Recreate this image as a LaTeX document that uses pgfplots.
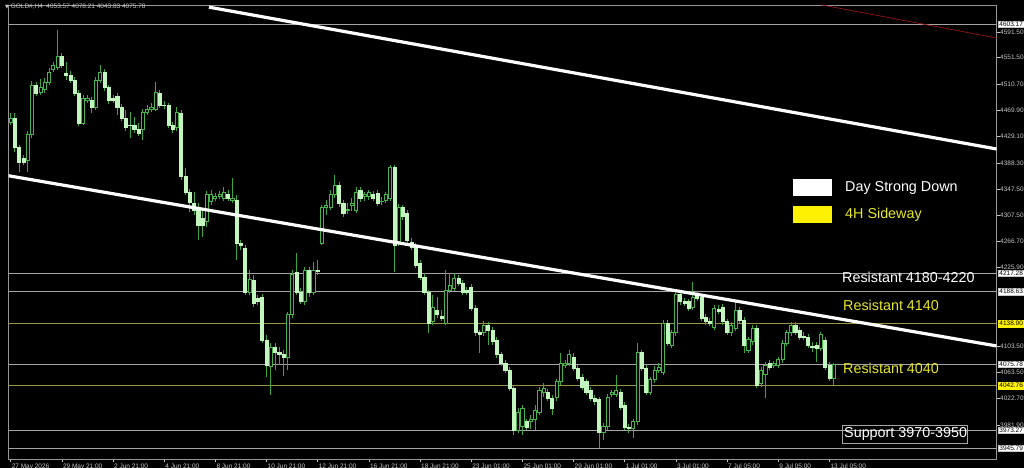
\documentclass[border=0pt]{standalone}
\usepackage{pgfplots}
\pgfplotsset{compat=1.18}
\usepackage{pgfplotstable}
\usepackage{fontspec}
\setmainfont{Liberation Sans}
\newfontfamily\dejavu{DejaVu Sans}
\definecolor{wickc}{RGB}{60,165,60}
\definecolor{bullc}{RGB}{70,180,70}
\definecolor{bearc}{RGB}{195,245,190}
\definecolor{lvlgray}{RGB}{165,165,165}
\definecolor{lvlyel}{RGB}{150,150,70}
\definecolor{labgray}{RGB}{200,200,200}
\definecolor{framegray}{RGB}{150,150,150}
\definecolor{annyel}{RGB}{230,230,40}
\definecolor{darkredline}{RGB}{150,20,20}
\pgfplotsset{
  wick/.style={color=wickc, line width=1bp, mark=none, forget plot},
  bullbody/.style={draw=bullc, fill=black, line width=0.8bp, mark=none, forget plot},
  bearbody/.style={draw=bearc, fill=bearc, line width=0.6bp, mark=none, forget plot},
}
\pgfplotstableread{
i o h l c
0 4452 4466 4447 4458
1 4458 4466 4405 4412
2 4412 4416 4374 4390
3 4396 4401 4385 4390
4 4393 4438 4374 4432
5 4432 4516 4427 4509
6 4509 4514 4492 4497
7 4497 4519 4494 4506
8 4502 4520 4497 4514
9 4514 4536 4509 4529
10 4534 4545 4529 4539
11 4537 4595 4533 4553
12 4553 4559 4536 4540
13 4528 4545 4517 4525
14 4525 4531 4512 4517
15 4517 4522 4492 4497
16 4497 4502 4446 4450
17 4450 4494 4447 4489
18 4486 4494 4481 4488
19 4486 4491 4466 4475
20 4475 4522 4471 4517
21 4517 4540 4512 4529
22 4529 4534 4500 4505
23 4505 4509 4480 4485
24 4489 4494 4481 4486
25 4491 4497 4463 4475
26 4475 4480 4453 4458
27 4458 4471 4438 4444
28 4447 4467 4427 4446
29 4447 4460 4435 4440
30 4440 4450 4430 4435
31 4440 4472 4424 4466
32 4467 4478 4463 4471
33 4471 4481 4467 4474
34 4472 4514 4469 4497
35 4497 4502 4474 4478
36 4478 4485 4472 4477
37 4477 4481 4443 4447
38 4447 4452 4435 4440
39 4443 4475 4438 4466
40 4466 4471 4362 4367
41 4367 4381 4339 4343
42 4343 4348 4312 4328
43 4326 4343 4308 4315
44 4319 4326 4269 4292
45 4303 4315 4274 4292
46 4297 4345 4289 4339
47 4328 4346 4323 4339
48 4334 4342 4329 4337
49 4337 4345 4332 4339
50 4334 4351 4329 4343
51 4339 4346 4329 4334
52 4331 4365 4326 4334
53 4331 4339 4238 4264
54 4264 4269 4253 4260
55 4256 4261 4184 4188
56 4188 4222 4184 4207
57 4207 4215 4165 4171
58 4179 4184 4168 4174
59 4180 4185 4109 4114
60 4114 4122 4056 4075
61 4073 4109 4029 4103
62 4103 4109 4067 4095
63 4095 4103 4075 4092
64 4091 4098 4058 4087
65 4086 4157 4067 4153
66 4153 4222 4148 4215
67 4218 4249 4184 4188
68 4188 4194 4170 4174
69 4174 4227 4168 4222
70 4222 4227 4180 4188
71 4188 4235 4184 4222
72 4222 4238 4215 4221
73 4264 4323 4261 4319
74 4319 4331 4308 4322
75 4320 4346 4315 4339
76 4339 4370 4334 4354
77 4354 4359 4320 4326
78 4326 4331 4305 4311
79 4314 4326 4309 4317
80 4322 4334 4314 4326
81 4315 4351 4311 4343
82 4346 4351 4328 4334
83 4336 4343 4329 4339
84 4336 4346 4331 4342
85 4339 4345 4329 4334
86 4342 4346 4322 4326
87 4328 4336 4323 4329
88 4331 4343 4326 4339
89 4334 4385 4329 4381
90 4381 4385 4219 4261
91 4266 4325 4260 4320
92 4319 4323 4300 4305
93 4311 4315 4264 4269
94 4266 4272 4253 4258
95 4258 4264 4225 4230
96 4233 4238 4207 4211
97 4211 4218 4184 4188
98 4187 4191 4125 4140
99 4142 4184 4137 4165
100 4160 4180 4148 4153
101 4151 4160 4143 4148
102 4140 4222 4137 4191
103 4191 4218 4187 4199
104 4194 4218 4190 4210
105 4210 4215 4198 4202
106 4202 4207 4184 4188
107 4191 4196 4184 4188
108 4196 4201 4159 4163
109 4163 4168 4120 4125
110 4125 4129 4094 4122
111 4125 4143 4120 4137
112 4137 4142 4106 4129
113 4129 4134 4106 4111
114 4114 4118 4086 4091
115 4091 4095 4073 4078
116 4078 4083 4063 4067
117 4067 4072 4035 4039
118 4039 4044 3966 3974
119 3974 4008 3970 4002
120 3979 4013 3966 4008
121 3987 3991 3974 3979
122 3988 3997 3976 3991
123 3990 4013 3974 4005
124 4002 4041 3997 4036
125 4032 4047 4025 4039
126 4033 4038 4019 4024
127 4024 4029 3997 4008
128 4024 4053 4019 4049
129 4049 4094 4044 4078
130 4075 4083 4070 4077
131 4078 4098 4073 4091
132 4087 4094 4066 4070
133 4070 4075 4050 4055
134 4056 4061 4036 4041
135 4049 4053 4029 4033
136 4036 4041 4019 4024
137 4024 4029 4013 4018
138 4021 4025 3946 3971
139 3971 3985 3959 3979
140 3979 4030 3974 4025
141 4029 4036 4025 4032
142 4029 4060 4025 4036
143 4033 4038 4005 4010
144 4013 4018 3974 3979
145 3979 3983 3970 3976
146 3977 3991 3962 3987
147 3987 4109 3982 4094
148 4094 4098 4066 4070
149 4070 4075 4029 4032
150 4033 4056 4029 4052
151 4052 4073 4047 4067
152 4067 4078 4063 4072
153 4063 4145 4060 4140
154 4140 4145 4104 4109
155 4106 4129 4101 4125
156 4125 4188 4120 4184
157 4184 4188 4168 4173
158 4174 4179 4167 4171
159 4173 4177 4159 4163
160 4165 4204 4160 4180
161 4185 4190 4174 4179
162 4180 4185 4143 4148
163 4149 4154 4137 4142
164 4142 4148 4136 4140
165 4134 4168 4129 4163
166 4162 4168 4154 4159
167 4165 4170 4137 4142
168 4142 4146 4122 4126
169 4125 4142 4120 4137
170 4132 4176 4128 4160
171 4160 4165 4140 4145
172 4145 4149 4094 4106
173 4098 4118 4094 4114
174 4111 4137 4106 4132
175 4132 4137 4039 4044
176 4047 4072 4041 4067
177 4060 4080 4024 4075
178 4078 4083 4067 4072
179 4075 4081 4070 4077
180 4075 4087 4070 4083
181 4083 4114 4078 4109
182 4109 4129 4104 4125
183 4125 4142 4120 4137
184 4137 4142 4122 4126
185 4129 4134 4114 4118
186 4120 4126 4114 4118
187 4118 4123 4101 4106
188 4104 4111 4095 4103
189 4106 4111 4080 4101
190 4101 4126 4097 4122
191 4114 4118 4067 4072
192 4075 4080 4050 4055
193 4053.57 4078.21 4043.83 4075.78
}\candles
\begin{document}
\begin{tikzpicture}[x=1bp,y=1bp]
\useasboundingbox (0,0) rectangle (1024,468);
\fill[black] (0,0) rectangle (1024,468);
\begin{axis}[
  at={(2,14)}, anchor=south west,
  scale only axis, width=988bp, height=454bp,
  xmin=-0.5, xmax=231.2, ymin=3929.2, ymax=4633.4,
  axis line style={draw=framegray, line width=0.8bp},
  tick align=outside, major tick length=3bp,
  tick style={draw=labgray, line width=0.6bp},
  xtick pos=bottom, ytick pos=right, yticklabel pos=right,
  xtick={0,12,...,192},
  xticklabels={27 May 2026,29 May 21:00,2 Jun 21:00,4 Jun 21:00,8 Jun 21:00,10 Jun 21:00,12 Jun 21:00,16 Jun 21:00,18 Jun 21:00,23 Jun 01:00,25 Jun 01:00,29 Jun 01:00,1 Jul 01:00,3 Jul 01:00,7 Jul 05:00,9 Jul 05:00,13 Jul 05:00},
  xticklabel style={anchor=north west, font=\fontsize{6.5}{7}\selectfont, text=labgray, inner sep=0pt, xshift=1bp, yshift=-1.5bp},
  ytick={3981.9,4022.7,4063.5,4103.5,4225.9,4266.7,4307.5,4347.5,4388.3,4429.1,4469.9,4510.7,4551.5,4591.5},
  scaled y ticks=false,
  yticklabel style={anchor=west, font=\fontsize{6.5}{7}\selectfont, text=labgray, inner sep=0pt, xshift=0.5bp,
    /pgf/number format/fixed, /pgf/number format/fixed zerofill, /pgf/number format/precision=2,
    /pgf/number format/1000 sep={}, /pgf/number format/assume math mode=true},
]
% horizontal levels
\addplot[lvlgray, line width=0.8bp, mark=none, forget plot] coordinates {(-0.5,4603.17) (231.2,4603.17)};
\addplot[lvlgray, line width=0.8bp, mark=none, forget plot] coordinates {(-0.5,4217.28) (231.2,4217.28)};
\addplot[lvlgray, line width=0.8bp, mark=none, forget plot] coordinates {(-0.5,4188.63) (231.2,4188.63)};
\addplot[lvlyel, line width=0.8bp, mark=none, forget plot] coordinates {(-0.5,4138.90) (231.2,4138.90)};
\addplot[lvlgray, line width=0.8bp, mark=none, forget plot] coordinates {(-0.5,4075.78) (231.2,4075.78)};
\addplot[lvlyel, line width=0.8bp, mark=none, forget plot] coordinates {(-0.5,4042.76) (231.2,4042.76)};
\addplot[lvlgray, line width=0.8bp, mark=none, forget plot] coordinates {(-0.5,3973.27) (231.2,3973.27)};
\addplot[lvlgray, line width=0.8bp, mark=none, forget plot] coordinates {(-0.5,3945.79) (231.2,3945.79)};
% candles
\pgfplotsinvokeforeach{0,...,193}{
  \pgfplotstablegetelem{#1}{o}\of\candles\let\vo\pgfplotsretval
  \pgfplotstablegetelem{#1}{h}\of\candles\let\vh\pgfplotsretval
  \pgfplotstablegetelem{#1}{l}\of\candles\let\vl\pgfplotsretval
  \pgfplotstablegetelem{#1}{c}\of\candles\let\vc\pgfplotsretval
  \pgfmathsetmacro\xa{#1-0.36}
  \pgfmathsetmacro\xb{#1+0.36}
  \pgfmathtruncatemacro\isbull{\vc>\vo}
  \ifnum\isbull=1 \def\bodystyle{bullbody}\else\def\bodystyle{bearbody}\fi
  \edef\temp{\noexpand\addplot[wick] coordinates {(#1,\vl) (#1,\vh)};
    \noexpand\addplot[\bodystyle] coordinates {(\xa,\vo) (\xb,\vo) (\xb,\vc) (\xa,\vc)} -- cycle;}
  \temp
}
% trend lines
\addplot[white, line width=3.2bp, mark=none, forget plot] coordinates {(46.5,4630.0) (231.2,4410.0)};
\addplot[white, line width=3.2bp, mark=none, forget plot] coordinates {(-0.5,4368.5) (231.2,4104.5)};
\addplot[darkredline, line width=0.7bp, mark=none, forget plot] coordinates {(190.2,4633.4) (231.2,4582.2)};
\coordinate (L1) at (axis cs:231.2,4603.17);
\coordinate (L2) at (axis cs:231.2,4217.28);
\coordinate (L3) at (axis cs:231.2,4188.63);
\coordinate (L4) at (axis cs:231.2,4138.90);
\coordinate (L5) at (axis cs:231.2,4075.78);
\coordinate (L6) at (axis cs:231.2,4042.76);
\coordinate (L7) at (axis cs:231.2,3973.27);
\coordinate (L8) at (axis cs:231.2,3945.79);
\end{axis}
% price boxes
\tikzset{pbox/.style={anchor=west, xshift=1.5bp, inner xsep=1.2bp, inner ysep=0.8bp, font=\fontsize{6.5}{7}\selectfont, text=black, draw=labgray, line width=0.4bp}}
\node[pbox, fill=white] at (L1) {4603.17};
\node[pbox, fill=white] at (L2) {4217.28};
\node[pbox, fill=white] at (L3) {4188.63};
\node[pbox, fill=yellow, draw=yellow] at (L4) {4138.90};
\node[pbox, fill=white] at (L5) {4075.78};
\node[pbox, fill=yellow, draw=yellow] at (L6) {4042.76};
\node[pbox, fill=white] at (L7) {3973.27};
\node[pbox, fill=white] at (L8) {3945.79};
% title
\node[anchor=west, inner sep=0pt, text=labgray, font=\fontsize{6.5}{7}\selectfont] at (5,461) {{\dejavu\fontsize{5}{6}\selectfont ▼} GOLD\#,H4\ \ 4053.57 4078.21 4043.83 4075.78};
% legend boxes
\fill[white] (793,272) rectangle (832,289);
\fill[yellow] (793,245) rectangle (832,262);
\tikzset{ann/.style={anchor=west, inner sep=0pt, font=\fontsize{14.4}{16}\selectfont}}
\node[ann, text=white] at (845,280) {Day Strong Down};
\node[ann, text=annyel] at (845,253) {4H Sideway};
\node[ann, text=white] at (842,191) {Resistant 4180-4220};
\node[ann, text=annyel] at (843,163) {Resistant 4140};
\node[ann, text=annyel] at (843,100) {Resistant 4040};
\draw[lvlgray, line width=0.8bp] (842,43) rectangle (967,25);
\node[ann, text=white] at (844,34) {Support 3970-3950};
\end{tikzpicture}
\end{document}
